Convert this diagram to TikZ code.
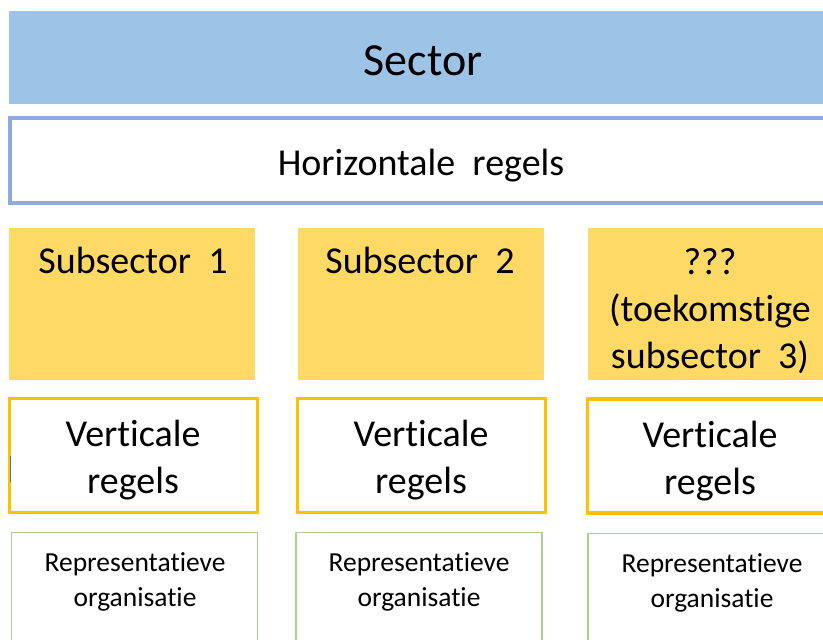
\documentclass[tikz,border=0pt]{standalone}
\usepackage{fontspec}
\setmainfont{Carlito}[Ligatures={NoCommon}]
\definecolor{sectorblue}{HTML}{9DC3E6}
\definecolor{horizblue}{HTML}{8FAADC}
\definecolor{subyellow}{HTML}{FFD966}
\definecolor{vertorange}{HTML}{FFC000}
\definecolor{reprgreen}{HTML}{A9D18E}
\definecolor{markblue}{HTML}{4472C4}
\tikzset{
  sectorbox/.style={fill=sectorblue, draw=none, inner sep=0pt},
  horizbox/.style={draw=horizblue, line width=3.2pt, fill=white, inner sep=0pt},
  subbox/.style={fill=subyellow, draw=none, inner sep=0pt, minimum width=246pt, minimum height=152pt},
  vertbox/.style={draw=vertorange, line width=3.2pt, fill=white, inner sep=0pt, minimum width=248pt, minimum height=114pt},
  reprbox/.style={draw=reprgreen, line width=1.2pt, fill=white, inner sep=0pt, minimum width=246pt, minimum height=140pt},
  bigtxt/.style={align=center, inner sep=0pt, font=\fontsize{38}{47}\selectfont},
  smalltxt/.style={align=center, inner sep=0pt, font=\fontsize{27.5}{35}\selectfont},
}
\begin{document}
\begin{tikzpicture}[x=1pt,y=-1pt]
\useasboundingbox (0,0) rectangle (823,640);
\clip (0,0) rectangle (823,640);
\fill[white] (0,0) rectangle (823,640);
% Sector
\node[sectorbox, minimum width=830pt, minimum height=93pt] (sector) at (424,57.5) {};
\node[inner sep=0pt, font=\fontsize{46}{55}\selectfont] (sectortxt) at (423,61) {Sector};
% Horizontale regels
\node[horizbox, minimum width=830pt, minimum height=85pt] (horiz) at (425,160.5) {};
\node[bigtxt] (horiztxt) at (421,166) {Horizontale\ \ regels};
% Subsectors
\node[subbox] (sub1) at (132,303.5) {};
\node[subbox] (sub2) at (421,303.5) {};
\node[subbox] (sub3) at (711,303.5) {};
\node[bigtxt] (sub1txt) at (133,260) {Subsector\ \ 1};
\node[bigtxt] (sub2txt) at (420,260) {Subsector\ \ 2};
\node[bigtxt, anchor=north] (sub3txt) at (710,248) {???\\(toekomstige\\subsector\ \ 3)};
% Verticale regels
\node[vertbox] (vert1) at (133.5,455.5) {};
\node[vertbox] (vert2) at (421.5,455.5) {};
\node[vertbox] (vert3) at (711.5,456) {};
\node[bigtxt] (vert1txt) at (133,460.5) {Verticale\\regels};
\node[bigtxt] (vert2txt) at (421,460.5) {Verticale\\regels};
\node[bigtxt] (vert3txt) at (710,461) {Verticale\\regels};
% Representatieve organisatie
\node[reprbox, anchor=north] (repr1) at (134.5,531.5) {};
\node[reprbox, anchor=north] (repr2) at (419,531.5) {};
\node[reprbox, anchor=north] (repr3) at (711,532.5) {};
\node[smalltxt] (repr1txt) at (135,582) {Representatieve\\organisatie};
\node[smalltxt] (repr2txt) at (419,582) {Representatieve\\organisatie};
\node[smalltxt] (repr3txt) at (712,583) {Representatieve\\organisatie};
% small mark
\coordinate (m1) at (10,456);
\coordinate (m2) at (10,482);
\draw[markblue, line width=1pt] (m1) -- (m2);
\end{tikzpicture}
\end{document}
